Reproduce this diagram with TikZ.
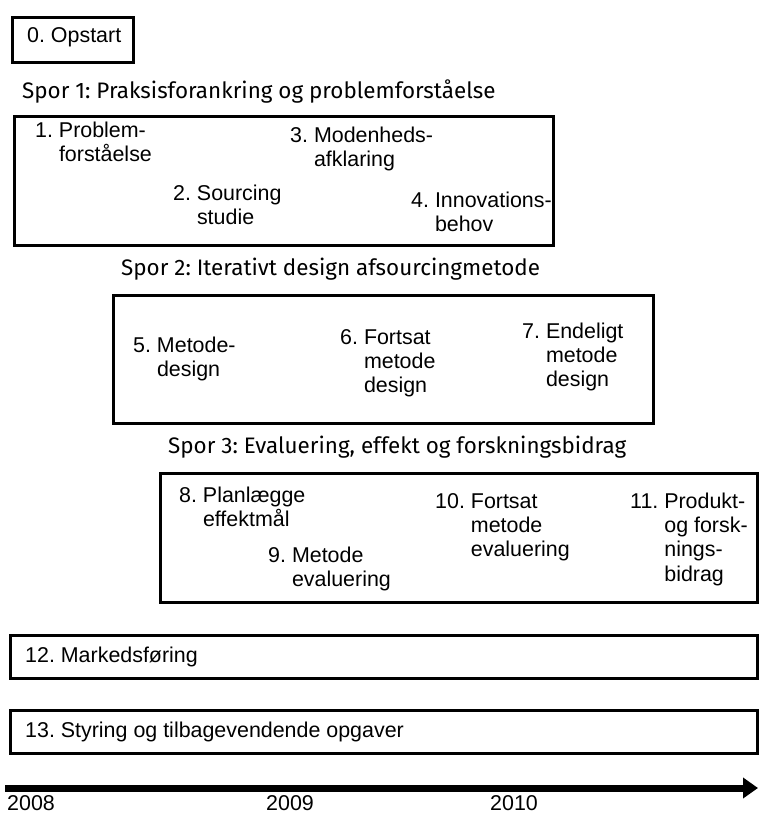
\documentclass[tikz,border=0pt]{standalone}
\usepackage{fontspec}
\setmainfont{Liberation Sans}
\newfontfamily\titlefont{Fira Sans}
\usetikzlibrary{arrows.meta}
\frenchspacing
\newcommand\nbr[1]{\mbox{#1\ }}
\newcommand\twol[3]{\begin{tabular}[t]{@{}l@{}l@{}}\nbr{#1}& #2\\ & #3\end{tabular}}
\newcommand\threel[4]{\begin{tabular}[t]{@{}l@{}l@{}}\nbr{#1}& #2\\ & #3\\ & #4\end{tabular}}
\newcommand\fourl[5]{\begin{tabular}[t]{@{}l@{}l@{}}\nbr{#1}& #2\\ & #3\\ & #4\\ & #5\end{tabular}}
\begin{document}
\begin{tikzpicture}[x=1bp,y=-1bp,
  box/.style={draw, line width=3bp, anchor=north west, inner sep=0pt},
  item/.style={anchor=base west, inner sep=0pt, font=\fontsize{21.5}{24.5}\selectfont},
  spor/.style={anchor=base west, inner sep=0pt, font=\titlefont\fontsize{22.5}{26}\selectfont},
  timeline/.style={line width=7bp, -{Triangle[length=15bp,width=20bp]}}]
\useasboundingbox[fill=white] (0,0) rectangle (759,814);
% boxes
\node[box, minimum width=121bp, minimum height=44bp] (b0) at (10.5,16.5) {};
\node[box, minimum width=539bp, minimum height=129bp] (b1) at (12.5,114.5) {};
\node[box, minimum width=540bp, minimum height=128bp] (b2) at (111.5,293.5) {};
\node[box, minimum width=597bp, minimum height=129bp] (b3) at (158.5,471.5) {};
\node[box, minimum width=747bp, minimum height=43bp] (b12) at (8.5,633.5) {};
\node[box, minimum width=747bp, minimum height=43bp] (b13) at (8.5,708.5) {};
% texts
\node[item] (t0) at (27,43) {0. Opstart};
\node[spor] (s1) at (22,98) {Spor 1: Praksisforankring og problemforståelse};
\node[item] (t1) at (35,137) {\twol{1.}{Problem-}{forståelse}};
\node[item] (t2) at (173,200) {\twol{2.}{Sourcing}{studie}};
\node[item] (t3) at (290,142) {\twol{3.}{Modenheds-}{afklaring}};
\node[item] (t4) at (411,207) {\twol{4.}{Innovations-}{behov}};
\node[spor] (s2) at (121,275) {Spor 2: Iterativt design afsourcingmetode};
\node[item] (t5) at (133,352) {\twol{5.}{Metode-}{design}};
\node[item] (t6) at (340,344) {\threel{6.}{Fortsat}{metode}{design}};
\node[item] (t7) at (522,338) {\threel{7.}{Endeligt}{metode}{design}};
\node[spor] (s3) at (168,453) {Spor 3: Evaluering, effekt og forskningsbidrag};
\node[item] (t8) at (179,502) {\twol{8.}{Planlægge}{effektmål}};
\node[item] (t9) at (268,562) {\twol{9.}{Metode}{evaluering}};
\node[item] (t10) at (435,508) {\threel{10.}{Fortsat}{metode}{evaluering}};
\node[item] (t11) at (630,508) {\fourl{11.}{Produkt-}{og forsk-}{nings-}{bidrag}};
\node[item] (t12) at (25,662) {12. Markedsføring};
\node[item] (t13) at (25,737) {13. Styring og tilbagevendende opgaver};
% timeline
\coordinate (a0) at (5,788);
\coordinate (a1) at (758,788);
\draw[timeline] (a0) -- (a1);
\node[item] (y8) at (7,810.5) {2008};
\node[item] (y9) at (266,810.5) {2009};
\node[item] (y10) at (490,810.5) {2010};
\end{tikzpicture}
\end{document}
